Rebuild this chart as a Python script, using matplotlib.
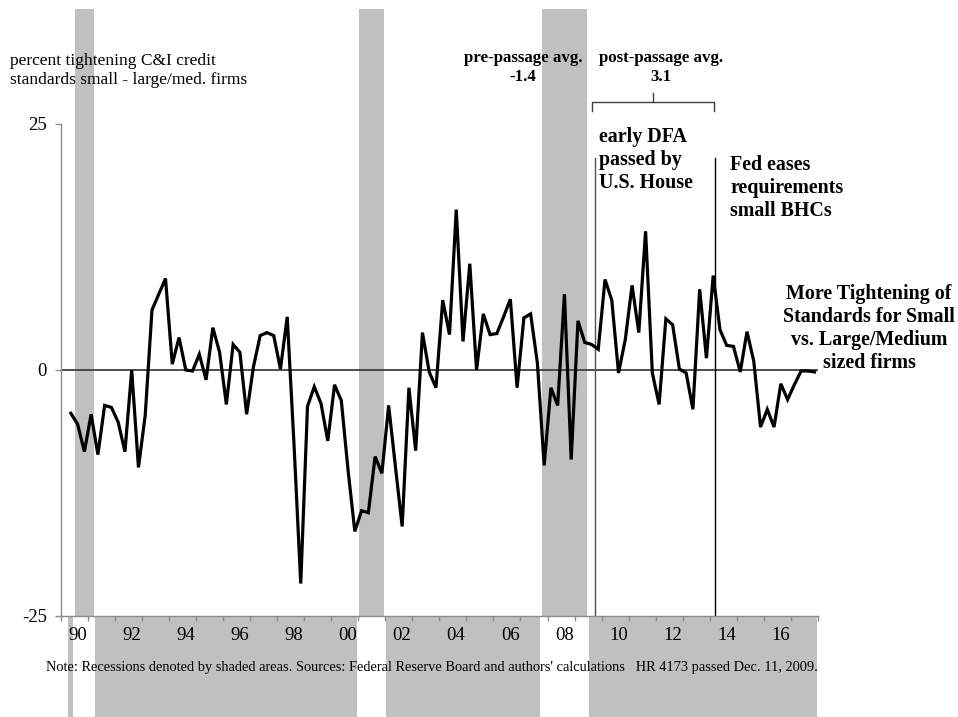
import matplotlib
matplotlib.use("Agg")
import matplotlib.pyplot as plt
import numpy as np

plt.rcParams["font.family"] = ["Liberation Serif", "DejaVu Serif"]

# percent tightening C&I standards, small minus large/medium firms, quarterly from 1990Q2
first_year, first_quarter = 1990, 2
spread = [
    -4.4, -5.5, -8.3,
    -4.5, -8.6, -3.6, -3.8,
    -5.3, -8.3, 0.0, -9.9,
    -4.6, 6.1, 7.7, 9.3,
    0.6, 3.3, 0.0, -0.1,
    1.6, -1.0, 4.3, 1.8,
    -3.5, 2.6, 1.8, -4.5,
    0.3, 3.5, 3.8, 3.5,
    0.1, 5.4, -7.5, -21.7,
    -3.7, -1.7, -3.4, -7.2,
    -1.5, -3.1, -10.2, -16.4,
    -14.3, -14.5, -8.8, -10.5,
    -3.6, -9.8, -15.9, -1.8,
    -8.2, 3.8, -0.2, -1.8,
    7.1, 3.6, 16.3, 2.9,
    10.8, 0.0, 5.7, 3.6,
    3.7, 5.4, 7.2, -1.8,
    5.3, 5.7, 0.7, -9.7,
    -1.8, -3.6, 7.7, -9.1,
    5.0, 2.8, 2.6, 2.1,
    9.2, 7.1, -0.3, 3.1,
    8.6, 3.8, 14.1, -0.3,
    -3.5, 5.2, 4.6, 0.1,
    -0.3, -4.0, 8.2, 1.2,
    9.6, 4.1, 2.5, 2.4,
    -0.2, 3.9, 0.9, -5.8,
    -4.0, -5.8, -1.4, -3.0,
    -1.5, -0.1, -0.1, -0.2,
]
# NBER recessions: (start year, start quarter, end year, end quarter)
recessions = [(1990, 3, 1991, 1), (2001, 1, 2001, 4), (2007, 4, 2009, 2)]
label_years = [1990, 1992, 1994, 1996, 1998, 2000, 2002, 2004,
               2006, 2008, 2010, 2012, 2014, 2016]
label_text = ["90", "92", "94", "96", "98", "00", "02", "04",
              "06", "08", "10", "12", "14", "16"]
dfa_passed = 2009.75
fed_eases = 2014.2
pre_avg, post_avg = -1.4, 3.1

GRAY = "#c0c0c0"
W, H = 958, 717


def fig_xy(px, py):
    return px / W, 1 - py / H


# quarter positions
qidx = (first_quarter - 1) + np.arange(len(spread))
x = first_year + qidx / 4 + 0.125
qcode = first_year * 4 + qidx
in_rec = np.zeros(len(spread), bool)
for y0, q0, y1, q1 in recessions:
    in_rec |= (qcode >= y0 * 4 + q0 - 1) & (qcode <= y1 * 4 + q1 - 1)

# contiguous runs of recession / non-recession quarters
runs = []
start = 0
for i in range(1, len(spread) + 1):
    if i == len(spread) or in_rec[i] != in_rec[start]:
        runs.append((x[start] - 0.125, x[i - 1] + 0.125, in_rec[start]))
        start = i

fig = plt.figure(figsize=(W / 100, H / 100), dpi=100)
ax = fig.add_axes([60.7 / W, (H - 616) / H, (818 - 60.7) / W, (616 - 124) / H])
ax.set_xlim(1990, 2018)
ax.set_ylim(-25, 25)

inset = 0.03
for a, b, rec in runs:
    if rec:
        ax.bar(a + inset, 61.7, width=b - a - 2 * inset, bottom=-25, align="edge",
               color=GRAY, lw=0, clip_on=False, zorder=0)
    else:
        ax.bar(a + inset, -20, width=b - a - 2 * inset, bottom=-25, align="edge",
               color=GRAY, lw=0, clip_on=False, zorder=0)

ax.axhline(0, color="#404040", lw=1.3, zorder=1)
ax.plot([dfa_passed, dfa_passed], [21.5, -25], color="#505050", lw=1, zorder=1)
ax.plot([fed_eases, fed_eases], [21.5, -25], color="black", lw=1, zorder=1)
ax.plot(x, spread, color="black", lw=2.3, zorder=3, solid_joinstyle="miter")

# bracket over the post-passage period
bx0, bx1, bmid = 2009.64, 2014.15, 2011.9
ax.plot([bx0, bx0, bx1, bx1], [26.35, 27.27, 27.27, 26.35], color="#404040",
        lw=1, clip_on=False)
ax.plot([bmid, bmid], [27.27, 28.2], color="#404040", lw=1, clip_on=False)

for s in ["top", "right"]:
    ax.spines[s].set_visible(False)
for s in ["left", "bottom"]:
    ax.spines[s].set_color("#8c8c8c")
    ax.spines[s].set_linewidth(1)

ax.set_yticks([-25, 0, 25])
ax.set_yticklabels(["-25", "0", "25"])
ax.tick_params(axis="y", length=4, width=1, color="#8c8c8c", pad=6, labelsize=13.5)
ax.set_xticks(np.arange(1990, 2019))
ax.set_xticklabels([])
ax.tick_params(axis="x", which="major", length=3.5, width=1, color="#8c8c8c")
ax.set_xticks([yr + 0.62 for yr in label_years], minor=True)
ax.set_xticklabels(label_text, minor=True)
ax.tick_params(axis="x", which="minor", length=0, pad=8, labelsize=13.5)

bold = dict(fontweight="bold", fontsize=14.4, linespacing=1.2)
fig.text(*fig_xy(10, 70.5), "percent tightening C&I credit\nstandards small - large/med. firms",
         fontsize=12.5, va="center", ha="left", linespacing=1.2)
fig.text(*fig_xy(523, 67.5), f"pre-passage avg.\n{pre_avg}", fontweight="bold",
         fontsize=12.2, ha="center", va="center", linespacing=1.32)
fig.text(*fig_xy(661, 67.5), f"post-passage avg.\n{post_avg}", fontweight="bold",
         fontsize=12.2, ha="center", va="center", linespacing=1.32)
fig.text(*fig_xy(599, 160), "early DFA\npassed by\nU.S. House", ha="left",
         va="center", **bold)
fig.text(*fig_xy(730, 188), "Fed eases\nrequirements\nsmall BHCs", ha="left",
         va="center", **bold)
fig.text(*fig_xy(869, 328), "More Tightening of\nStandards for Small\nvs. Large/Medium\nsized firms",
         ha="center", va="center", multialignment="center", **bold)
fig.text(*fig_xy(46, 667),
         "Note: Recessions denoted by shaded areas. Sources: Federal Reserve Board "
         "and authors' calculations   HR 4173 passed Dec. 11, 2009.",
         fontsize=10.4, ha="left", va="center")

fig.savefig("out.png", dpi=100)
